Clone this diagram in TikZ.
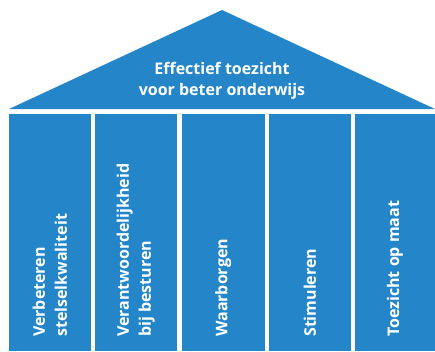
\documentclass[tikz,border=0pt]{standalone}
\usepackage{fontspec}
\newfontfamily\housefont{Open Sans}
\definecolor{inspblue}{RGB}{36,134,200}
\tikzset{
  house/.style={fill=inspblue, draw=none},
  roof text/.style={
    text=white, align=center, inner sep=0pt,
    font=\housefont\bfseries\fontsize{16}{21.5}\selectfont
  },
  pillar text/.style={
    text=white, align=left, inner sep=0pt,
    rotate=90, anchor=west,
    font=\housefont\bfseries\fontsize{16}{22}\selectfont
  }
}

\begin{document}
\begin{tikzpicture}[x=1pt,y=-1pt]
  \useasboundingbox (0,0) rectangle (435,351);
  % roof
  \fill[house] (9,109) -- (222,10) -- (435,109) -- cycle;
  \node[roof text] (roof) at (222,81) {Effectief toezicht\\voor beter onderwijs};
  % pillars
  \foreach \l/\r/\n/\t in {9/90.5/1/{Verbeteren\\stelselkwaliteit},
                           94.5/177/2/{Verantwoordelijkheid\\bij besturen},
                           181.5/265/3/{Waarborgen},
                           269/350.5/4/{Stimuleren},
                           355/435/5/{Toezicht op maat}} {
    \fill[house] (\l,113.5) rectangle (\r,351);
    \node[pillar text] (pillar\n) at ({(\l+\r)/2},337) {\t};
  }
\end{tikzpicture}
\end{document}
